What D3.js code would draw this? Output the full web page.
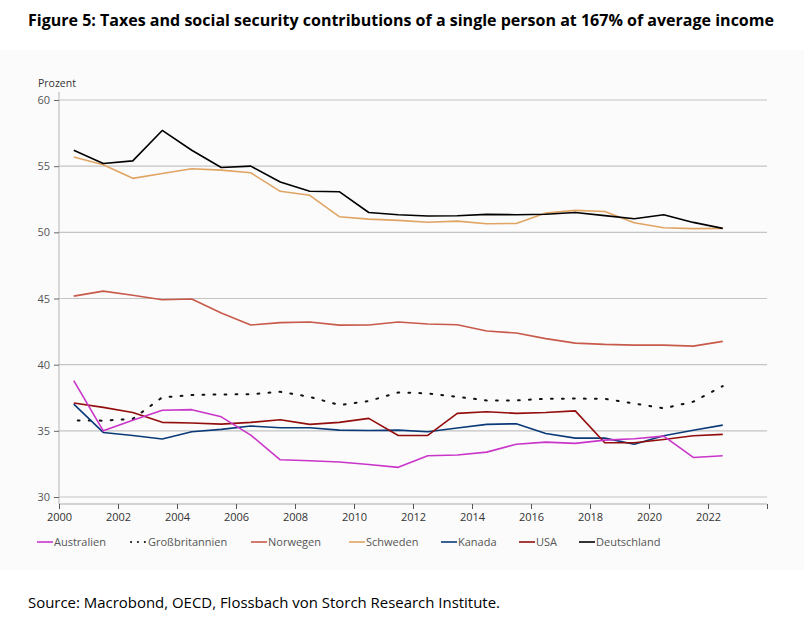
<!DOCTYPE html>
<html>
<head>
<meta charset="utf-8">
<script src="https://cdn.jsdelivr.net/npm/d3@7"></script>
<style>
  body { margin: 0; background: #fff; }
  svg { display: block; }
</style>
</head>
<body>
<div id="chart"></div>
<script>
// years are plotted at mid-year
const years = d3.range(2000, 2023)

const australien = [38.8, 35.0, 35.8, 36.55, 36.6, 36.06, 34.68, 32.81, 32.74, 32.64, 32.46, 32.24,
  33.12, 33.17, 33.39, 33.99, 34.15, 34.05, 34.3, 34.4, 34.6, 32.99, 33.12]
const grossbritannien = [35.79, 35.77, 35.9, 37.53, 37.7, 37.75, 37.77, 37.95, 37.57, 36.95, 37.25, 37.9,
  37.83, 37.57, 37.3, 37.3, 37.42, 37.44, 37.42, 37.07, 36.7, 37.2, 38.38]
const norwegen = [45.18, 45.56, 45.24, 44.91, 44.96, 43.9, 43.0, 43.18, 43.22, 42.99, 43.0, 43.22,
  43.07, 43.02, 42.54, 42.39, 41.97, 41.63, 41.53, 41.48, 41.48, 41.4, 41.76]
const schweden = [55.7, 55.1, 54.08, 54.45, 54.8, 54.7, 54.5, 53.1, 52.8, 51.18, 51.0, 50.9,
  50.76, 50.85, 50.65, 50.67, 51.46, 51.66, 51.58, 50.73, 50.35, 50.28, 50.3]
const kanada = [37.02, 34.88, 34.65, 34.38, 34.93, 35.11, 35.36, 35.23, 35.23, 35.05, 35.03, 35.05,
  34.93, 35.21, 35.49, 35.54, 34.8, 34.45, 34.45, 33.99, 34.63, 35.05, 35.43]
const usa = [37.1, 36.77, 36.39, 35.64, 35.59, 35.51, 35.64, 35.84, 35.49, 35.64, 35.94, 34.65,
  34.65, 36.32, 36.44, 36.32, 36.39, 36.51, 34.1, 34.1, 34.35, 34.63, 34.73]
const deutschland = [56.2, 55.2, 55.4, 57.7, 56.2, 54.9, 55.0, 53.8, 53.1, 53.07, 51.5, 51.33,
  51.23, 51.25, 51.36, 51.33, 51.37, 51.5, 51.26, 51.03, 51.33, 50.75, 50.3]

const yTicks = [30, 35, 40, 45, 50, 55, 60]
const xTicks = d3.range(2000, 2025, 2)

const series = [
  { name: "Australien", values: australien, color: "#c935c9", dash: null },
  { name: "Großbritannien", values: grossbritannien, color: "#111", dash: "1.8 9.2" },
  { name: "Norwegen", values: norwegen, color: "#c75a4a", dash: null },
  { name: "Schweden", values: schweden, color: "#e0a463", dash: null },
  { name: "Kanada", values: kanada, color: "#0b3a78", dash: null },
  { name: "USA", values: usa, color: "#930d0d", dash: null },
  { name: "Deutschland", values: deutschland, color: "#000", dash: null }
]
// draw order: last on top
const drawOrder = ["Norwegen", "Schweden", "Deutschland", "Großbritannien", "Kanada", "USA", "Australien"]

const width = 804
const height = 625
const margin = { top: 100, left: 59, right: 37, bottom: 128 }

const svg = d3.select("#chart").append("svg")
  .attr("width", width)
  .attr("height", height)
  .style("font-family", "'Open Sans', sans-serif")

svg.append("rect").attr("width", width).attr("height", height).attr("fill", "#fff")
svg.append("rect").attr("x", 0).attr("y", 50).attr("width", width).attr("height", 520).attr("fill", "#fbfbfb")

svg.append("text")
  .attr("x", 28).attr("y", 26)
  .attr("font-size", 15.8).attr("font-weight", "bold").attr("fill", "#000")
  .attr("textLength", 746).attr("lengthAdjust", "spacingAndGlyphs")
  .text("Figure 5: Taxes and social security contributions of a single person at 167% of average income")

svg.append("text")
  .attr("x", 28).attr("y", 608)
  .attr("font-size", 15).attr("fill", "#000")
  .attr("textLength", 472).attr("lengthAdjust", "spacingAndGlyphs")
  .text("Source: Macrobond, OECD, Flossbach von Storch Research Institute.")

const x = d3.scaleLinear().domain([2000, 2024]).range([margin.left, width - margin.right])
const y = d3.scaleLinear().domain([30, 60]).range([497, 100])

const g = svg.append("g")

// gridlines
g.append("g")
  .selectAll("line").data(yTicks).enter().append("line")
  .attr("x1", x(2000)).attr("x2", x(2024))
  .attr("y1", d => y(d)).attr("y2", d => y(d))
  .attr("stroke", d => d === 30 || d === 60 ? "#d6d6d6" : "#c4c4c4")
  .attr("stroke-width", d => d === 30 || d === 60 ? 1.6 : 1.1)

// y axis
const yAxis = g.append("g")
  .attr("transform", `translate(${x(2000)},0)`)
  .call(d3.axisLeft(y).tickValues(yTicks).tickSize(5).tickPadding(4))
yAxis.select(".domain").attr("d", `M0,92V504`).attr("stroke", "#c4c4c4").attr("stroke-width", 1.3)
yAxis.selectAll(".tick line").attr("stroke", "#666")
yAxis.selectAll(".tick text").attr("font-size", 11).attr("fill", "#555")
  .attr("font-family", "'Open Sans', sans-serif")

svg.append("text")
  .attr("x", 38).attr("y", 87)
  .attr("font-size", 10.5).attr("fill", "#333")
  .text("Prozent")

// x axis
const xAxis = g.append("g")
  .attr("transform", `translate(0,504)`)
  .call(d3.axisBottom(x).tickValues(xTicks).tickSize(5).tickPadding(4)
    .tickFormat(d => d <= 2022 ? d : ""))
xAxis.select(".domain").attr("d", `M${x(2000)},0H${x(2024)}`).attr("stroke", "#c4c4c4").attr("stroke-width", 1.3)
xAxis.selectAll(".tick line").attr("stroke", "#555")
xAxis.selectAll(".tick text").attr("font-size", 11).attr("fill", "#333")
  .attr("font-family", "'Open Sans', sans-serif")

// lines
const line = d3.line()
  .x((d, i) => x(years[i] + 0.5))
  .y(d => y(d))

drawOrder.forEach(n => {
  const s = series.find(e => e.name === n)
  g.append("path")
    .datum(s.values)
    .attr("fill", "none")
    .attr("stroke", s.color)
    .attr("stroke-width", s.dash ? 2 : 1.6)
    .attr("stroke-linecap", s.dash ? "round" : "butt")
    .attr("stroke-linejoin", "round")
    .attr("stroke-dasharray", s.dash)
    .attr("stroke-dashoffset", s.dash ? -4 : null)
    .attr("d", line)
})

// legend
const legendX = [37, 130, 251, 349, 441, 519, 579]
const legend = svg.append("g").attr("transform", "translate(0,542)")
series.forEach((s, i) => {
  const item = legend.append("g").attr("transform", `translate(${legendX[i]},0)`)
  item.append("line")
    .attr("x1", s.dash ? 1 : 0).attr("x2", 16)
    .attr("stroke", s.color)
    .attr("stroke-width", s.dash ? 2 : 1.6)
    .attr("stroke-linecap", s.dash ? "round" : "butt")
    .attr("stroke-dasharray", s.dash ? "0.1 6.8" : null)
  item.append("text")
    .attr("x", s.dash ? 18 : 17).attr("y", 4)
    .attr("font-size", 11).attr("fill", "#555")
    .text(s.name)
})
</script>
</body>
</html>
